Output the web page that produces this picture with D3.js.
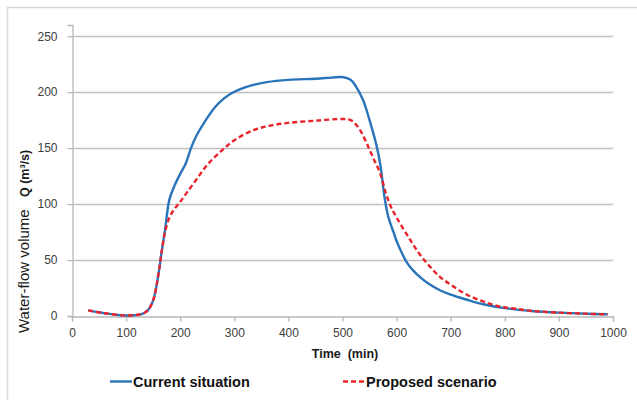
<!DOCTYPE html>
<html>
<head>
<meta charset="utf-8">
<script src="https://cdn.jsdelivr.net/npm/d3@7"></script>
<style>
  body { margin: 0; background: #fff; }
  text { font-family: "Liberation Sans", Arial, sans-serif; }
</style>
</head>
<body>
<div id="chart"></div>
<script>
// time in minutes, discharge in m3/s
var currentT = [30, 60, 100, 130, 140, 150, 160, 165, 172, 180, 190, 200, 210, 220, 230, 250, 265, 280, 295, 310, 335, 360, 400, 450, 480, 500, 515, 525, 538, 550, 563, 570, 578, 585, 595, 600, 610, 620, 630, 645, 660, 680, 700, 730, 760, 800, 850, 900, 950, 990];
var currentQ = [5, 2.5, 0.5, 2, 5, 14, 38, 55, 77, 104, 117, 127, 136, 150, 161, 177, 187, 194, 199, 202.5, 206.5, 209, 211, 212, 213, 213.5, 211, 205, 193, 175, 152, 135, 105, 88, 74, 67, 56, 47, 41, 34, 28.5, 23, 19, 14.5, 10.5, 7, 4.5, 3, 2, 1.5];

var proposedT = [30, 60, 100, 130, 140, 150, 160, 165, 172, 180, 190, 200, 212, 230, 250, 275, 300, 335, 365, 400, 450, 500, 515, 525, 535, 545, 557, 570, 580, 590, 600, 620, 640, 660, 680, 700, 730, 760, 790, 820, 850, 900, 950, 990];
var proposedQ = [5, 2.5, 0.5, 2, 5, 14, 38, 55, 75, 88, 96, 102, 110, 122, 135, 147, 157, 166, 170, 172.5, 174.5, 176, 175, 171, 164, 154, 141, 127, 110, 97, 88, 72, 57, 45, 35, 28, 19, 13, 8.5, 6.5, 4.5, 3, 2, 1.5];

var xTicks = [0, 100, 200, 300, 400, 500, 600, 700, 800, 900, 1000];
var yTicks = [0, 50, 100, 150, 200, 250];

var W = 637, H = 400;

var svg = d3.select("#chart")
    .append("svg")
    .attr("width", W)
    .attr("height", H);

// chart frame (only top and left edges are inside the picture)
svg.append("path")
    .attr("d", "M7.5," + H + "V7.5H" + W)
    .attr("fill", "none")
    .attr("stroke", "#d9d9d9")
    .attr("stroke-width", 1.5);

var x = d3.scaleLinear().domain([0, 1000]).range([72, 613]);
var y = d3.scaleLinear().domain([0, 260]).range([316, 25]);

// gridlines
svg.append("g")
    .selectAll("line")
    .data(yTicks.filter(function(d) { return d > 0; }))
    .enter()
    .append("line")
    .attr("x1", x(0))
    .attr("x2", x(1000))
    .attr("y1", function(d) { return Math.round(y(d)) + 0.5; })
    .attr("y2", function(d) { return Math.round(y(d)) + 0.5; })
    .attr("stroke", "#c0c0c0")
    .attr("stroke-width", 1.3);

var xAxis = svg.append("g")
    .attr("transform", "translate(0," + (Math.round(y(0)) + 0.5) + ")")
    .call(d3.axisBottom(x).tickValues(xTicks).tickSize(5).tickPadding(7).tickFormat(d3.format("d")));

var yAxis = svg.append("g")
    .attr("transform", "translate(" + (x(0) + 0.5) + ",0)")
    .call(d3.axisLeft(y).tickValues(yTicks).tickSize(5).tickPadding(10).tickFormat(d3.format("d")));

[xAxis, yAxis].forEach(function(g) {
    g.select(".domain").attr("stroke", "#b8b8b8").attr("stroke-width", 1.3);
    g.selectAll(".tick line").attr("stroke", "#b8b8b8").attr("stroke-width", 1.3);
    g.selectAll(".tick text")
        .attr("fill", "#404040")
        .style("font-size", "12px")
        .style("font-family", "'Liberation Sans', Arial, sans-serif");
});

var line = d3.line()
    .x(function(d) { return x(d[0]); })
    .y(function(d) { return y(d[1]); })
    .curve(d3.curveCatmullRom.alpha(0.5));

var current = currentT.map(function(t, i) { return [t, currentQ[i]]; });
var proposed = proposedT.map(function(t, i) { return [t, proposedQ[i]]; });

svg.append("path")
    .datum(current)
    .attr("d", line)
    .attr("fill", "none")
    .attr("stroke", "#2a74ba")
    .attr("stroke-width", 2.4);

svg.append("path")
    .datum(proposed)
    .attr("d", line)
    .attr("fill", "none")
    .attr("stroke", "#e8232a")
    .attr("stroke-width", 2.4)
    .attr("stroke-dasharray", "5,3");

// axis titles
svg.append("text")
    .attr("x", 345)
    .attr("y", 358)
    .attr("text-anchor", "middle")
    .style("font-size", "12.5px")
    .style("font-weight", "bold")
    .attr("fill", "#1a1a1a")
    .attr("xml:space", "preserve")
    .text("Time  (min)");

var yTitle = svg.append("text")
    .attr("transform", "translate(29,333) rotate(-90)")
    .attr("fill", "#1a1a1a");
yTitle.append("tspan")
    .style("font-size", "15px")
    .text("Water-flow volume");
yTitle.append("tspan")
    .attr("x", 136)
    .style("font-size", "12.5px")
    .style("font-weight", "bold")
    .text("Q (m³/s)");

// legend
var legend = [
    {name: "Current situation", color: "#2a74ba", dash: null, x: 110},
    {name: "Proposed scenario", color: "#e8232a", dash: "5,3", x: 343}
];

var lg = svg.selectAll(".legend")
    .data(legend)
    .enter()
    .append("g")
    .attr("transform", function(d) { return "translate(" + d.x + ",381.5)"; });

lg.append("line")
    .attr("x1", 0)
    .attr("x2", 22)
    .attr("stroke", function(d) { return d.color; })
    .attr("stroke-width", 2.4)
    .attr("stroke-dasharray", function(d) { return d.dash; });

lg.append("text")
    .attr("x", 23)
    .attr("y", 5)
    .style("font-size", "14.5px")
    .style("font-weight", "bold")
    .attr("fill", "#111")
    .text(function(d) { return d.name; });
</script>
</body>
</html>
